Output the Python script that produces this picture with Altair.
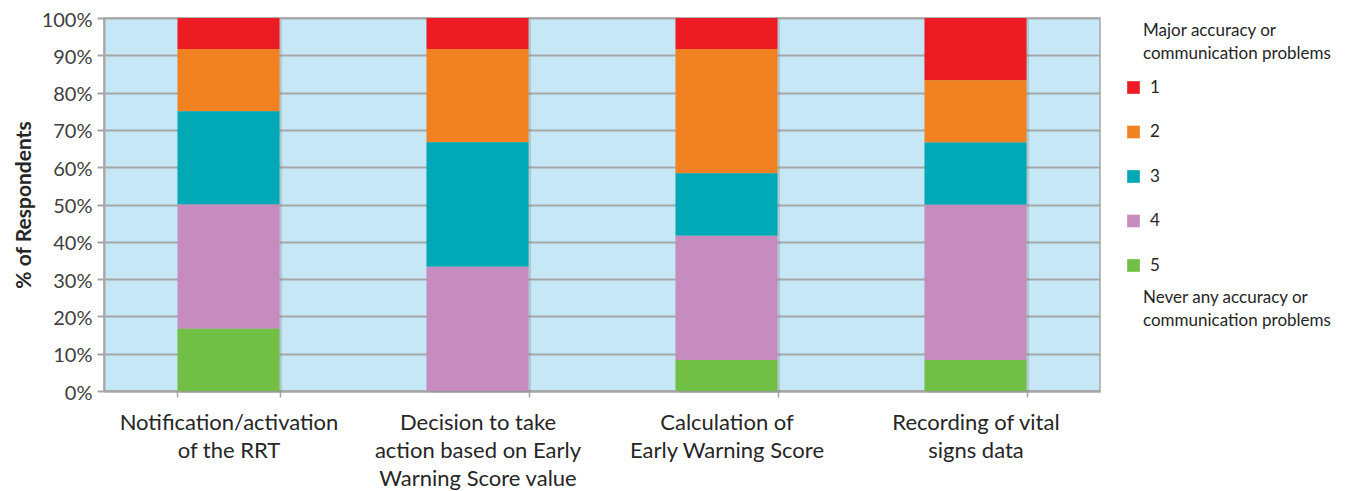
import altair as alt
import pandas as pd

categories = [
    "Notification/activation\nof the RRT",
    "Decision to take\naction based on Early\nWarning Score value",
    "Calculation of\nEarly Warning Score",
    "Recording of vital\nsigns data",
]
ratings = ["1", "2", "3", "4", "5"]
pct_1 = [8.3, 8.3, 8.3, 16.7]
pct_2 = [16.7, 25.0, 33.3, 16.7]
pct_3 = [25.0, 33.3, 16.7, 16.7]
pct_4 = [33.3, 33.3, 33.3, 41.7]
pct_5 = [16.7, 0.0, 8.3, 8.3]
colors = ["#ED1C24", "#F28121", "#00A9B5", "#C78CBF", "#71BF44"]
header_text = ["Major accuracy or", "communication problems"]
footer_text = ["Never any accuracy or", "communication problems"]
y_ticks = [i / 10 for i in range(11)]

rows = []
for r, vals in zip(ratings, [pct_1, pct_2, pct_3, pct_4, pct_5]):
    for c, v in zip(categories, vals):
        rows.append({"task": c, "rating": r, "pct": v})
df = pd.DataFrame(rows)

GRID = "#A6A6A6"
FONT = "Lato"

x_enc = alt.X(
    "task:N",
    sort=categories,
    scale=alt.Scale(paddingInner=0.59, paddingOuter=0.295),
    axis=alt.Axis(
        title=None, labelAngle=0, labelExpr="split(datum.label, '\\n')",
        labelFontSize=22, labelLineHeight=28, labelFont=FONT, labelColor="#262626",
        labelLimit=400, labelOverlap=False, tickBand="extent", tickSize=6,
        tickColor=GRID, tickWidth=1.5, domainColor=GRID, domainWidth=2,
        grid=False, labelPadding=15, labelBaseline="top",
    ),
)
y_enc = alt.Y(
    "pct:Q", stack="normalize", scale=alt.Scale(domain=[0, 1]),
    axis=alt.Axis(
        title="% of Respondents", format=".0%", values=y_ticks,
        labelFontSize=20, labelFont=FONT, labelColor="#404040", labelPadding=5,
        labelOffset=2,
        tickSize=7, tickColor=GRID, tickWidth=2, domainColor=GRID, domainWidth=2,
        gridColor=GRID, gridWidth=2,
        titleFont=FONT, titleFontSize=21, titleFontWeight="bold", titleColor="#262626",
        titlePadding=7,
    ),
)

shadow = alt.Chart(df).mark_bar(color="#6F6F6F", opacity=0.25, xOffset=2.5, yOffset=1.5).encode(
    x=x_enc, y=y_enc, order=alt.Order("rating:N", sort="descending")
)

bars = alt.Chart(df).mark_bar().encode(
    x=x_enc,
    y=y_enc,
    color=alt.Color(
        "rating:N",
        scale=alt.Scale(domain=ratings, range=colors),
        legend=alt.Legend(
            title=None, orient="none", legendX=1021, legendY=61,
            symbolType="square", symbolSize=160, symbolStrokeWidth=0,
            labelFontSize=17, labelFont=FONT, labelColor="#262626",
            rowPadding=26.5, labelOffset=8, padding=0,
        ),
    ),
    order=alt.Order("rating:N", sort="descending"),
)

one = pd.DataFrame({"k": [0]})
header = alt.Chart(one).mark_text(
    text=header_text, align="left", baseline="middle", lineHeight=23,
    font=FONT, fontSize=17, color="#262626",
).encode(x=alt.value(1039), y=alt.value(13))
footer = alt.Chart(one).mark_text(
    text=footer_text, align="left", baseline="middle", lineHeight=23,
    font=FONT, fontSize=17, color="#262626",
).encode(x=alt.value(1039), y=alt.value(280))

chart = alt.layer(shadow, bars, header, footer).properties(
    width=996, height=373,
    padding={"left": 96, "top": 10, "right": 242, "bottom": 100},
    autosize=alt.AutoSizeParams(type="none"),
).configure_view(
    fill="#C6E8F6", stroke=GRID, strokeWidth=1.5
)

chart.save("out.html", embed_options={"renderer": "svg", "actions": False})
